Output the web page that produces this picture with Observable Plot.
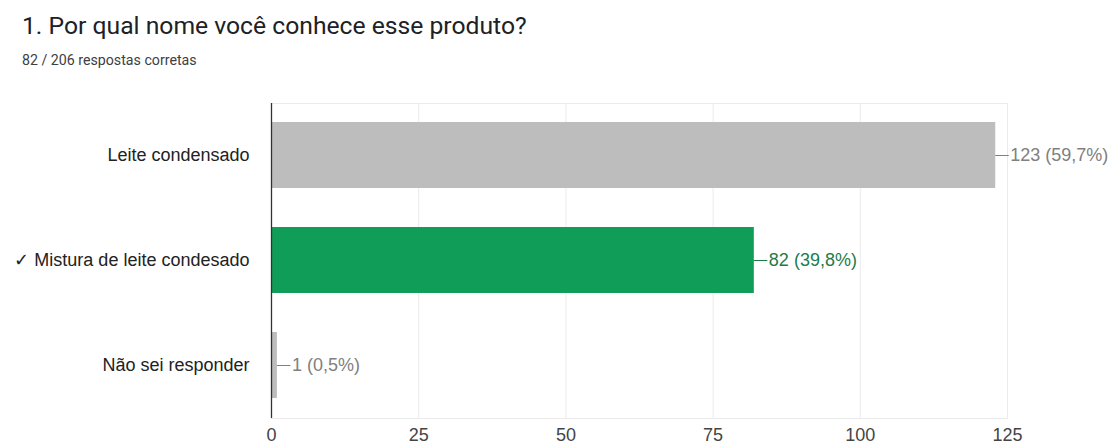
<!DOCTYPE html>
<html>
<head>
<meta charset="utf-8">
<script src="https://cdn.jsdelivr.net/npm/d3@7"></script>
<script src="https://cdn.jsdelivr.net/npm/@observablehq/plot@0.6"></script>
<style>
  html, body { margin: 0; padding: 0; background: #fff; }
  body { width: 1115px; height: 446px; overflow: hidden; position: relative; font-family: Roboto, "Noto Sans", sans-serif; }
  #title { position: absolute; left: 22px; top: 14px; font-size: 24.7px; line-height: 1; color: #202124; white-space: nowrap; }
  #subtitle { position: absolute; left: 22px; top: 53px; font-size: 14.2px; line-height: 1; color: #3c4043; white-space: nowrap; }
  #chart { position: absolute; left: 0; top: 80px; }
</style>
</head>
<body>
<div id="title">1. Por qual nome você conhece esse produto?</div>
<div id="subtitle">82 / 206 respostas corretas</div>
<div id="chart"></div>
<script>
const categories = ["Leite condensado", "✓ Mistura de leite condesado", "Não sei responder"];
const counts = [123, 82, 1];
const percents = ["59,7%", "39,8%", "0,5%"];
const correct = [false, true, false];
const xTicks = [0, 25, 50, 75, 100, 125];

const data = categories.map((c, i) => ({
  cat: c, count: counts[i], pct: percents[i], ok: correct[i],
  label: `${counts[i]} (${percents[i]})`
}));

const barColor = d => d.ok ? "#0f9d58" : "#bdbdbd";
const textColor = d => d.ok ? "#1e7b4a" : "#808080";
const chartFont = "'Liberation Sans', Arial, sans-serif";

const chart = Plot.plot({
  width: 1115,
  height: 366,
  marginTop: 23,
  marginBottom: 28,
  marginLeft: 271,
  marginRight: 108,
  style: { fontFamily: chartFont, fontSize: "18px", background: "#fff" },
  x: { domain: [0, 125], ticks: xTicks, label: null },
  y: { domain: categories, label: null, paddingInner: 0.37, paddingOuter: 0.185 },
  marks: [
    Plot.frame({ stroke: "#ebebeb" }),
    Plot.ruleX(xTicks, { stroke: "#ebebeb" }),
    Plot.barX(data, { x: "count", y: "cat", fill: barColor }),
    Plot.ruleY(data, { y: "cat", x1: "count", x2: d => d.count + 2.3, stroke: textColor, strokeWidth: 1 }),
    Plot.text(data, { x: d => d.count + 2.3, y: "cat", text: "label", fill: textColor, textAnchor: "start", dx: 1, fontSize: 18 }),
    Plot.ruleX([0], { stroke: "#333", strokeWidth: 1.3 }),
    Plot.axisY({ tickSize: 0, tickPadding: 22, fontSize: 18, fill: "#222" }),
    Plot.axisX({ ticks: xTicks, tickSize: 0, tickPadding: 10, fontSize: 18, fill: "#444" })
  ]
});
document.getElementById("chart").appendChild(chart);
</script>
</body>
</html>
